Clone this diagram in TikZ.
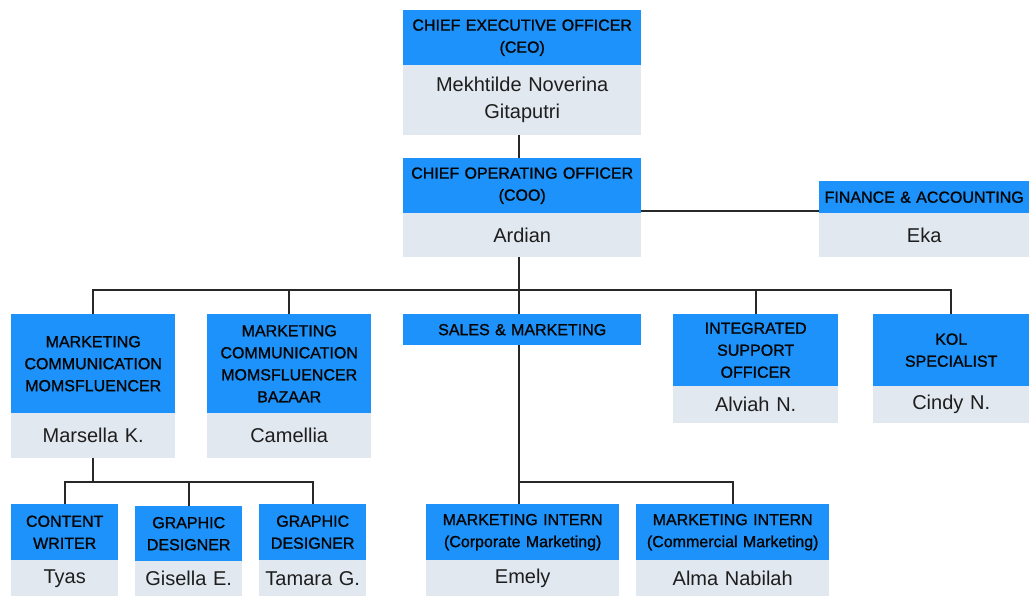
\documentclass[tikz,border=0pt]{standalone}
\usepackage{fontspec}
\setmainfont{Liberation Sans}
\newfontfamily\hdrfont{Liberation Sans}[FakeBold=1.2]
\definecolor{hblue}{RGB}{28,146,250}
\definecolor{bgray}{RGB}{225,232,240}
\definecolor{lc}{RGB}{40,40,40}
\definecolor{htxt}{RGB}{5,5,5}
\definecolor{btxt}{RGB}{30,30,30}
\newcommand{\hfnt}{\hdrfont\fontsize{16}{22}\selectfont}
\newcommand{\bfnt}{\fontsize{20}{27}\selectfont}
\tikzset{
  hdr/.style 2 args={fill=hblue, anchor=north west, inner sep=0pt, align=center,
    font=\hfnt, text=htxt, text width=#1pt, minimum height=#2pt},
  bdy/.style 2 args={fill=bgray, anchor=north west, inner sep=0pt, align=center,
    font=\bfnt, text=btxt, text width=#1pt, minimum height=#2pt},
  link/.style={draw=lc, line width=2.2pt}
}
\begin{document}
\begin{tikzpicture}[x=1pt,y=-1pt]
\useasboundingbox (0,0) rectangle (1029,596);
% CEO
\node[hdr={238}{55}] (hceo) at (403,10) {CHIEF EXECUTIVE OFFICER\\(CEO)};
\node[bdy={238}{70}] (bceo) at (403,65) {Mekhtilde Noverina\\Gitaputri};
% COO
\node[hdr={238}{55}] (hcoo) at (403,158) {CHIEF OPERATING OFFICER\\(COO)};
\node[bdy={238}{44}] (bcoo) at (403,213) {Ardian};
% Finance
\node[hdr={210}{32}] (hfin) at (819,181) {FINANCE \& ACCOUNTING};
\node[bdy={210}{44}] (bfin) at (819,213) {Eka};
% Row 2
\node[hdr={164}{99}] (hmc) at (11,314) {MARKETING\\COMMUNICATION\\MOMSFLUENCER};
\node[bdy={164}{45}] (bmc) at (11,413) {Marsella K.};
\node[hdr={164}{99}] (hbaz) at (207,314) {MARKETING\\COMMUNICATION\\MOMSFLUENCER\\BAZAAR};
\node[bdy={164}{45}] (bbaz) at (207,413) {Camellia};
\node[hdr={238}{31}] (hsales) at (403,314) {SALES \& MARKETING};
\node[hdr={165}{72}] (hint) at (673,314) {INTEGRATED\\SUPPORT\\OFFICER};
\node[bdy={165}{37}] (bint) at (673,386) {Alviah N.};
\node[hdr={156}{72}] (hkol) at (873,314) {KOL\\SPECIALIST};
\node[bdy={156}{37}] (bkol) at (873,386) {Cindy N.};
% Row 3
\node[hdr={107}{56}] (hcw) at (11,504) {CONTENT\\WRITER};
\node[bdy={107}{36}] (bcw) at (11,560) {Tyas};
\node[hdr={107}{55}] (hg1) at (135,506) {GRAPHIC\\DESIGNER};
\node[bdy={107}{35}] (bg1) at (135,561) {Gisella E.};
\node[hdr={107}{56}] (hg2) at (259,504) {GRAPHIC\\DESIGNER};
\node[bdy={107}{36}] (bg2) at (259,560) {Tamara G.};
\node[hdr={193}{56}] (hin1) at (426,504) {MARKETING INTERN\\(Corporate Marketing)};
\node[bdy={193}{36}] (bin1) at (426,560) {Emely};
\node[hdr={193}{56}] (hin2) at (636,504) {MARKETING INTERN\\(Commercial Marketing)};
\node[bdy={193}{36}] (bin2) at (636,560) {Alma Nabilah};
% Connectors
\coordinate (j1) at (0,290);
\coordinate (j2) at (0,482);
\coordinate (tr) at (519,0);
\draw[link] (bceo.south -| tr) -- (hcoo.north -| tr);
\draw[link] ([yshift=2pt]hcoo.south east) -- ([yshift=2pt]hfin.south west);
\draw[link] (bcoo.south -| tr) -- (hsales.north -| tr);
\draw[link] (hmc.north) |- (j1 -| hkol.north) -- (hkol.north);
\draw[link] (hbaz.north) -- (hbaz.north |- j1);
\draw[link] (hint.north) -- (hint.north |- j1);
\draw[link] (bmc.south) -- (bmc.south |- j2);
\draw[link] (hcw.north) |- (j2 -| hg2.north) -- (hg2.north);
\draw[link] (hg1.north) -- (hg1.north |- j2);
\draw[link] (hsales.south -| tr) -- (hin1.north -| tr);
\draw[link] (j2 -| tr) -| (hin2.north);
\end{tikzpicture}
\end{document}
